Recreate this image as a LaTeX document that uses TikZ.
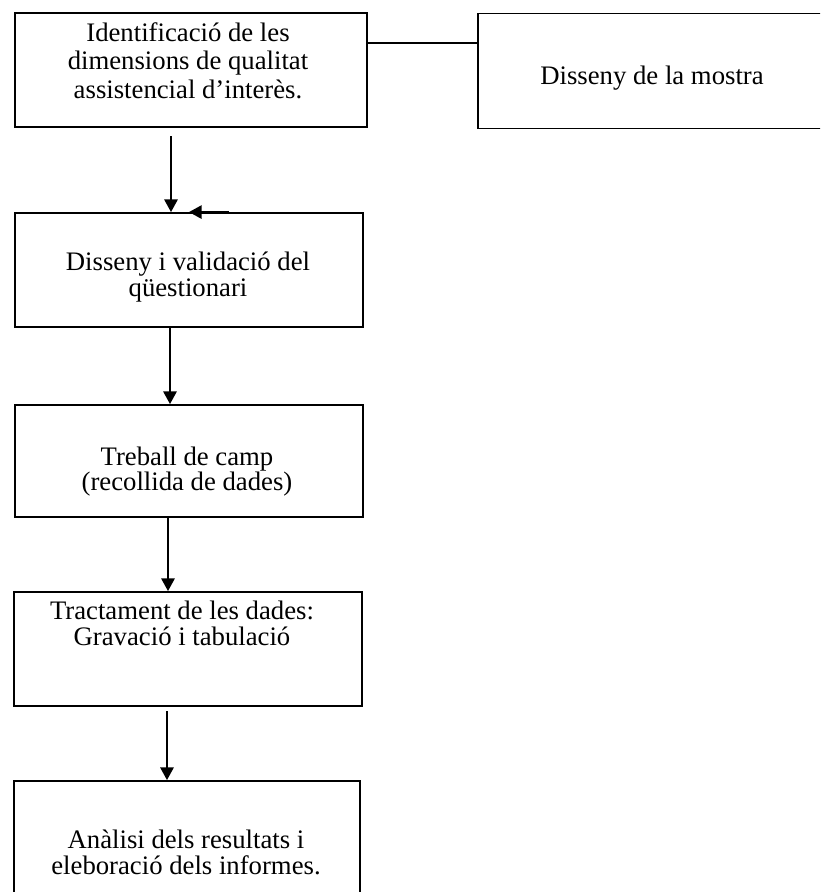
\documentclass[tikz,border=0pt]{standalone}
\usepackage{fontspec}
\setmainfont{Liberation Serif}
\usetikzlibrary{arrows.meta}

\newcommand{\boxtext}[1]{\begin{tabular}{@{}c@{}}#1\end{tabular}}

\begin{document}
\begin{tikzpicture}[x=0.025cm, y=-0.025cm,
	box/.style={draw, line width=1.3pt, rectangle, inner sep=0pt, minimum height=2.85cm},
	txt/.style={inner sep=0pt, font=\fontsize{19}{20.3}\selectfont},
	arr/.style={line width=1.3pt, -{Triangle[length=9pt,width=9.5pt]}}]
	\useasboundingbox (0,0) rectangle (820,892);
	\clip (0,0) rectangle (820,892);

	% boxes
	\node[box, minimum width=8.8cm] (ident) at (191, 70) {};
	\node[box, minimum width=8.65cm, minimum height=2.875cm] (mostra) at (651, 71) {};
	\node[box, minimum width=8.7cm] (disseny) at (189, 270) {};
	\node[box, minimum width=8.7cm, minimum height=2.8cm] (camp) at (189, 461) {};
	\node[box, minimum width=8.7cm] (tract) at (188, 649) {};
	\node[box, minimum width=8.65cm] (analisi) at (187, 838) {};

	% texts
	\node[txt] (ident-t) at (188, 64) {\boxtext{Identificació de les\\dimensions de qualitat\\assistencial d’interès.}};
	\node[txt] (mostra-t) at (652, 79) {\boxtext{Disseny de la mostra}};
	\node[txt, font=\fontsize{19}{18.5}\selectfont] (disseny-t) at (188, 278) {\boxtext{Disseny i validació del\\qüestionari}};
	\node[txt, font=\fontsize{19}{15.5}\selectfont] (camp-t) at (187, 472) {\boxtext{Treball de camp\\(recollida de dades)}};
	\node[txt, font=\fontsize{19}{18.5}\selectfont] (tract-t) at (182, 627) {\boxtext{Tractament de les dades:\\Gravació i tabulació}};
	\node[txt, font=\fontsize{19}{17.7}\selectfont] (analisi-t) at (186, 856) {\boxtext{Anàlisi dels resultats i\\eleboració dels informes.}};

	% connectors
	\coordinate (link) at (367, 43);
	\draw[line width=1.3pt] (ident.east |- link) -- (mostra.west |- link);

	\draw[arr, shorten <=6pt] ([xshift=-0.5cm]ident.south) -- ([xshift=-0.5cm]ident.south |- disseny.north);
	\draw[arr] ([xshift=1cm]disseny.north) -- (disseny.north);
	\draw[arr] ([xshift=-0.475cm]disseny.south) -- ([xshift=-0.475cm]disseny.south |- camp.north);
	\draw[arr] ([xshift=-0.525cm]camp.south) -- ([xshift=-0.525cm]camp.south |- tract.north);
	\draw[arr, shorten <=3pt] ([xshift=-0.525cm]tract.south) -- ([xshift=-0.525cm]tract.south |- analisi.north);
\end{tikzpicture}
\end{document}
